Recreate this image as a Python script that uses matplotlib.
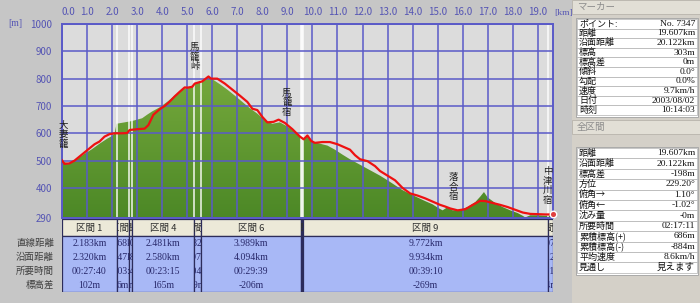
import numpy as np
import matplotlib.pyplot as plt
from matplotlib.patches import Rectangle, Polygon
from matplotlib.colors import LinearSegmentedColormap
from matplotlib.transforms import Bbox, TransformedBbox

plt.rcParams['font.family'] = ['Noto Sans CJK JP', 'DejaVu Sans']
SERIF = ['Liberation Serif', 'Noto Sans CJK JP']

# GPS track elevation (red line)
red_km = [0.00, 0.10, 0.30, 0.50, 0.70, 0.90, 1.10, 1.30, 1.50, 1.70, 1.90, 2.10, 2.40, 2.60,
          2.70, 3.00, 3.30, 3.45, 3.65, 3.90, 4.10, 4.30, 4.50, 4.70, 4.90, 5.00, 5.20, 5.30,
          5.60, 5.85, 5.95, 6.20, 6.50, 6.80, 7.10, 7.40, 7.60, 7.80, 8.00, 8.20, 8.45, 8.65,
          8.90, 9.20, 9.50, 9.65, 9.80, 9.95, 10.10, 10.40, 10.70, 11.00, 11.30, 11.50, 11.70,
          11.90, 12.20, 12.50, 12.70, 13.00, 13.30, 13.60, 13.90, 14.20, 14.50, 14.80, 15.10,
          15.30, 15.50, 15.80, 16.10, 16.40, 16.70, 16.90, 17.20, 17.50, 17.80, 18.10, 18.40,
          18.70, 19.00, 19.30, 19.607]
red_m = [501, 488, 490, 500, 515, 530, 545, 560, 570, 588, 597, 600, 600, 601,
         612, 615, 617, 630, 668, 688, 700, 716, 735, 752, 768, 767, 770, 782,
         790, 808, 800, 800, 782, 760, 738, 715, 690, 685, 660, 640, 642, 650,
         638, 615, 588, 578, 592, 572, 565, 568, 568, 560, 548, 540, 520,
         505, 498, 480, 462, 445, 428, 400, 380, 372, 362, 350, 338,
         332, 325, 318, 322, 338, 353, 352, 345, 338, 330, 320, 310,
         305, 304, 303, 303]

# terrain elevation (green area)
green_km = [0.00, 0.30, 0.60, 0.90, 1.20, 1.50, 1.80, 2.00, 2.10, 2.18, 2.50, 2.80, 3.00, 3.20,
            3.40, 3.60, 3.90, 4.20, 4.50, 4.80, 5.10, 5.40, 5.70, 5.85, 6.00, 6.30, 6.60,
            6.90, 7.20, 7.50, 7.80, 8.10, 8.40, 8.70, 9.00, 9.30, 9.60, 9.80, 10.00, 10.30,
            10.60, 10.90, 11.20, 11.50, 11.80, 12.10, 12.40, 12.70, 13.00, 13.30, 13.60, 13.90,
            14.20, 14.50, 14.80, 15.00, 15.20, 15.40, 15.60, 15.90, 16.20, 16.50, 16.70, 16.85,
            17.00, 17.30, 17.60, 17.90, 18.20, 18.40, 18.50, 18.70, 19.00, 19.30, 19.607]
green_m = [496, 490, 505, 525, 542, 562, 580, 590, 600, 635, 640, 645, 650, 655,
           668, 680, 695, 715, 738, 760, 770, 785, 798, 805, 798, 780, 760,
           738, 715, 692, 672, 648, 635, 640, 625, 605, 582, 590, 570, 562,
           555, 540, 522, 505, 490, 475, 460, 445, 428, 410, 392, 378,
           365, 352, 340, 328, 318, 330, 318, 320, 330, 348, 368, 385,
           365, 345, 330, 318, 308, 298, 292, 300, 300, 298, 300]

x_ticks = list(range(0, 20))
y_ticks = [290, 400, 500, 600, 700, 800, 900, 1000]

place_names = ['大妻籠', '馬籠峠', '馬籠宿', '落合宿', '中津川宿']
place_km = [0.05, 5.3, 8.98, 15.64, 19.4]
place_m = [594, 880, 712, 403, 407]

sec_names = ['区間 1', '区間 2', '区間 3', '区間 4', '区間 5', '区間 6', '区間 7', '区間 8', '区間 9', '区間 10']
sec_width_km = [2.183, 0.49, 0.11, 2.481, 0.28, 3.989, 0.045, 0.05, 9.772, 0.207]
sec_straight = ['2.183km', '0.468km', '0.110km', '2.481km', '0.282km', '3.989km', '0.045km', '0.050km', '9.772km', '0.207km']
sec_surface = ['2.320km', '0.547km', '0.118km', '2.580km', '0.297km', '4.094km', '0.048km', '0.053km', '9.934km', '0.212km']
sec_time = ['00:27:40', '00:03:14', '00:04:50', '00:23:15', '00:04:11', '00:29:39', '00:01:20', '00:02:12', '00:39:10', '00:01:40']
sec_diff = ['102m', '6m', '3m', '165m', '19m', '-206m', '-8m', '-6m', '-269m', '-4m']
row_labels = ['直線距離', '沿面距離', '所要時間', '標高差']

marker_labels = ['ポイント:', '距離', '沿面距離', '標高', '標高差', '傾斜', '勾配', '速度', '日付', '時刻']
marker_values = ['No. 7347', '19.607km', '20.122km', '303m', '0m', '0.0°', '0.0%', '9.7km/h', '2003/08/02', '10:14:03']
total_labels = ['距離', '沿面距離', '標高差', '方位', '俯角→', '俯角←', '沈み量', '所要時間',
                '累積標高(+)', '累積標高(-)', '平均速度', '見通し']
total_values = ['19.607km', '20.122km', '-198m', '229.20°', '1.10°', '-1.02°', '-0m', '02:17:11',
                '686m', '-884m', '8.6km/h', '見えます']

W, H = 700, 303
fig = plt.figure(figsize=(7, 3.03), dpi=100, facecolor='#c6c6c6')

# ---- profile
ax = fig.add_axes([62 / W, 1 - 218 / H, 491 / W, 194 / H])
xmax = red_km[-1]
ax.set_xlim(0, xmax)
ax.set_ylim(290, 1000)
ax.set_facecolor('#dcdcdc')

cmap = LinearSegmentedColormap.from_list('terrain', ['#4c8826', '#84b444'])
im = ax.imshow(np.linspace(1, 0, 256).reshape(-1, 1), extent=[0, xmax, 290, 1000],
               aspect='auto', cmap=cmap, zorder=1)
poly = Polygon(np.column_stack([[0] + green_km + [xmax], [290] + green_m + [290]]),
               closed=True, fc='none', ec='none', transform=ax.transData)
ax.add_patch(poly)
im.set_clip_path(poly)

# section boundaries (white)
bounds = np.cumsum(sec_width_km)[:-1]
for b in bounds:
    ax.axvline(b, color='white', lw=1.2, alpha=0.85, zorder=2)

ax.set_xticks(x_ticks)
ax.set_yticks(y_ticks)
ax.set_xticklabels(['%.1f' % t for t in x_ticks])
ax.grid(True, color='#5a5ac8', lw=1.1)
ax.set_axisbelow(False)
for g in ax.get_xgridlines() + ax.get_ygridlines():
    g.set_zorder(2.5)
ax.xaxis.tick_top()
ax.tick_params(length=0, labelsize=7, colors='#5555b4')
ax.tick_params(axis='x', pad=5)
ax.tick_params(axis='y', pad=7)
ax.get_xticklabels()[0].set_ha('left')
for s in ax.spines.values():
    s.set_color('#5a5ac8')
    s.set_linewidth(1.4)

ax.plot(red_km, red_m, color='#ee1111', lw=1.6, zorder=4)
ax.scatter([red_km[-1]], [red_m[-1]], s=22, color='#e04040', edgecolor='white', lw=1, zorder=5, clip_on=False)

for name, km, m in zip(place_names, place_km, place_m):
    ax.text(km, m, '\n'.join(name), ha='center', va='center', fontsize=6.8,
            linespacing=1.05, color='#202020', zorder=6)

fig.text(554 / W, 1 - 13 / H, '[km]', ha='left', va='center', fontsize=6.8,
         color='#5555b4', family=SERIF, zorder=10)
fig.text(8 / W, 1 - 24 / H, '[m]', fontsize=7, color='#5555b4', va='center', family=SERIF)

# ---- section table
tab = fig.add_axes([62 / W, 1 - 292 / H, 491 / W, 73 / H])
tab.set_xlim(0, xmax)
tab.set_ylim(5.25, 0)
tab.axis('off')
x0 = 0
rows = [sec_straight, sec_surface, sec_time, sec_diff]
for i, name in enumerate(sec_names):
    w = sec_width_km[i]
    hdr = Rectangle((x0, 0), w, 1.25, fc='#ece9d8', ec='#2c2c5a', lw=0.9)
    body = Rectangle((x0, 1.25), w, 4, fc='#a8b8f6', ec='#2c2c5a', lw=0.9)
    tab.add_patch(hdr)
    tab.add_patch(body)
    cell = TransformedBbox(Bbox.from_bounds(x0, 0, w, 5.25), tab.transData)
    t = tab.text(x0 + w / 2, 0.65, name, ha='center', va='center', fontsize=6.8, color='#303030')
    t.set_clip_box(cell)
    t.set_clip_on(True)
    for r, vals in enumerate(rows):
        t = tab.text(x0 + w / 2, 1.25 + 0.5 + r, vals[i], ha='center', va='center',
                     fontsize=7, color='#28286a', family=SERIF)
        t.set_clip_box(cell)
        t.set_clip_on(True)
    x0 += w
for r, lab in enumerate(row_labels):
    tab.text(-0.32, 1.75 + r, lab, ha='right', va='center', fontsize=6.8, color='#404040', clip_on=False)

# ---- info panel
pan = fig.add_axes([572 / W, 0, 128 / W, 1])
pan.set_xlim(0, 128)
pan.set_ylim(H, 0)
pan.axis('off')
pan.add_patch(Rectangle((0, 0), 128, H, fc='#d4d0c8', ec='none'))


def block(top, title, labels, values, row_h, box_top):
    pan.add_patch(Rectangle((0, top), 128, 14, fc='#e2dfd6', ec='#b8b4ac', lw=0.6))
    pan.text(5, top + 7, title, va='center', fontsize=6.8, color='#8c8c8c')
    n = len(labels)
    pan.add_patch(Rectangle((4, box_top - 1), 122, n * row_h + 3, fc='white', ec='#a0a0a0', lw=0.6))
    for k, (lab, val) in enumerate(zip(labels, values)):
        y = box_top + k * row_h
        pan.add_patch(Rectangle((5, y), 120, row_h, fc='white', ec='#b0b0b0', lw=0.5))
        pan.text(7, y + row_h / 2, lab, va='center', fontsize=6.5, color='#101010')
        pan.text(123, y + row_h / 2, val, va='center', ha='right', fontsize=6.8,
                 color='#101010', family=SERIF)


block(0, 'マーカー', marker_labels, marker_values, 9.6, 19)
block(120, '全区間', total_labels, total_values, 10.4, 148)

fig.savefig('out.png', dpi=100, facecolor=fig.get_facecolor())
